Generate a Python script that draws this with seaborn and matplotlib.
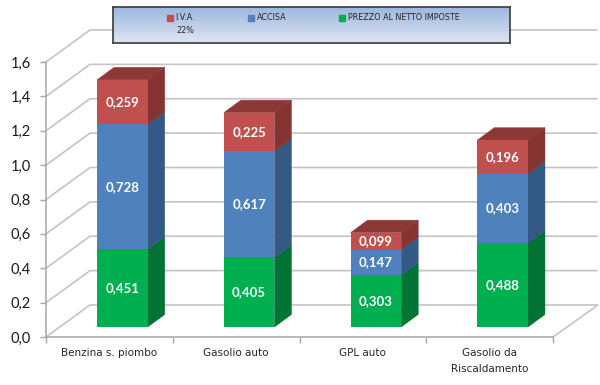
import numpy as np
import pandas as pd
import matplotlib
matplotlib.use("Agg")
import matplotlib.pyplot as plt
from matplotlib.colors import LinearSegmentedColormap
from matplotlib.patches import Polygon, Patch
from matplotlib.transforms import IdentityTransform
import seaborn as sns

categories = ["Benzina s. piombo", "Gasolio auto", "GPL auto", "Gasolio da\nRiscaldamento"]
prezzo = [0.451, 0.405, 0.303, 0.488]
accisa = [0.728, 0.617, 0.147, 0.403]
iva = [0.259, 0.225, 0.099, 0.196]
y_ticks = [0.0, 0.2, 0.4, 0.6, 0.8, 1.0, 1.2, 1.4, 1.6]
y_tick_labels = ["0,0", "0,2", "0,4", "0,6", "0,8", "1,0", "1,2", "1,4", "1,6"]
face_colors = ["#00B050", "#4F81BD", "#C0504D"]
side_colors = ["#007335", "#335A85", "#853432"]
top_color = "#8C3836"

W, H = 600, 385
sns.set_theme(style="white")
plt.rcParams["font.family"] = ["Lato", "DejaVu Sans"]
fig = plt.figure(figsize=(W / 100, H / 100), dpi=100)
fig.patch.set_facecolor("white")


def rect(x0, ytop, x1, ybot):
    return [x0 / W, 1 - ybot / H, (x1 - x0) / W, (ybot - ytop) / H]


# Front plane of the chart (axis) and plane of the bar fronts
ax = fig.add_axes(rect(46, 62, 553, 337))
bar_ax = fig.add_axes(rect(59, 52, 566, 327))
ax.patch.set_visible(False)
for a in (ax, bar_ax):
    a.set_xlim(-0.5, 3.5)
    a.set_ylim(0, 1.6)
bar_ax.patch.set_visible(False)

GRID = "#C4C4C4"
DX, DY = 44, 32

# Grid on the back wall and floor, drawn in pixels from the axis scales
to_px = ax.transData.transform
ident = IdentityTransform()
for t in y_ticks:
    x0, y0 = to_px((-0.5, t))
    ax.plot([x0, x0 + DX, x0 + DX + 507], [y0, y0 + DY, y0 + DY], color=GRID, lw=1.2,
            transform=ident, clip_on=False, zorder=1)
x1, y1 = to_px((3.5, 0))
ax.plot([x1, x1 + DX + 1], [y1, y1 + DY], color=GRID, lw=1.2, transform=ident, clip_on=False, zorder=1)

# Bar fronts via seaborn
bottoms = np.zeros(4)
bw = 0.4
for vals, col in zip([prezzo, accisa, iva], face_colors):
    df = pd.DataFrame({"cat": categories, "val": vals})
    sns.barplot(data=df, x="cat", y="val", ax=bar_ax, color=col, saturation=1, width=bw,
                bottom=bottoms, zorder=4, order=categories, linewidth=0, edgecolor="none")
    bottoms = bottoms + np.array(vals)
bar_ax.set_xlim(-0.5, 3.5)
bar_ax.set_ylim(0, 1.6)
bar_ax.axis("off")

# Side and top faces, projected from the bar data
px = bar_ax.transData.transform
SX, SY = 17, 12.5
bot = np.zeros(4)
for vals, side in zip([prezzo, accisa, iva], side_colors):
    for i, v in enumerate(vals):
        a = px((i + bw / 2, bot[i]))
        b = px((i + bw / 2, bot[i] + v))
        poly = [a, b, b + [SX, SY], a + [SX, SY]]
        bar_ax.add_patch(Polygon(poly, closed=True, facecolor=side, edgecolor=side, lw=0.3,
                                 transform=ident, clip_on=False, zorder=3))
        bar_ax.text(i, bot[i] + v / 2, f"{v:.3f}".replace(".", ","), color="white",
                    fontweight="bold", fontsize=9.5, ha="center", va="center", zorder=6)
    bot = bot + np.array(vals)
for i, total in enumerate(bot):
    l = px((i - bw / 2, total))
    r = px((i + bw / 2, total))
    bar_ax.add_patch(Polygon([l, r, r + [SX, SY], l + [SX, SY]], closed=True, facecolor=top_color,
                             edgecolor=top_color, lw=0.3, transform=ident, clip_on=False, zorder=3))

# Axes
for s in ("top", "right"):
    ax.spines[s].set_visible(False)
for s in ("left", "bottom"):
    ax.spines[s].set_color("#A6A6A6")
    ax.spines[s].set_linewidth(1.1)
ax.set_yticks(y_ticks)
ax.set_yticklabels(y_tick_labels, fontsize=10.5, color="#1A1A1A")
ax.set_xticks([-0.5, 0.5, 1.5, 2.5, 3.5])
ax.set_xticklabels([])
ax.tick_params(axis="y", length=4, width=1, color="#A6A6A6", left=True, pad=7)
ax.tick_params(axis="x", length=4, width=1, color="#A6A6A6", bottom=True)
for i, c in enumerate(categories):
    ax.text(i, -0.063, c, ha="center", va="top", fontsize=7.5, color="#262626",
            family="DejaVu Sans", linespacing=1.75, clip_on=False)

# Legend panel
lx0, lx1, ly0, ly1 = 113, 510, 7, 43
panel = fig.add_axes(rect(lx0, ly0, lx1, ly1), zorder=5)
panel.imshow(np.linspace(0, 1, 64).reshape(-1, 1), aspect="auto",
             cmap=LinearSegmentedColormap.from_list("g", ["#9DB7DE", "#DDE5F3"]),
             extent=(0, 1, 0, 1))
panel.set_xticks([])
panel.set_yticks([])
for s in panel.spines.values():
    s.set_color("#3A3A3A")
    s.set_linewidth(1.2)
handles = [Patch(color=face_colors[2], label="I.V.A."),
           Patch(color=face_colors[1], label="ACCISA"),
           Patch(color=face_colors[0], label="PREZZO AL NETTO IMPOSTE")]
leg = panel.legend(handles=handles, ncol=3, frameon=False, loc="upper left",
                   bbox_to_anchor=((164 - lx0) / (lx1 - lx0), 0.90), borderaxespad=0, borderpad=0.35,
                   handlelength=0.75, handleheight=0.75, handletextpad=0.3,
                   columnspacing=6.6, prop={"family": "DejaVu Sans", "size": 5.8})
for t in leg.get_texts():
    t.set_color("#262626")
panel.text((176 - lx0) / (lx1 - lx0), (ly1 - 30.5) / (ly1 - ly0), "22%", fontsize=5.8,
           family="DejaVu Sans", color="#262626", va="center", ha="left", transform=panel.transAxes)

fig.savefig("out.png", dpi=100)
